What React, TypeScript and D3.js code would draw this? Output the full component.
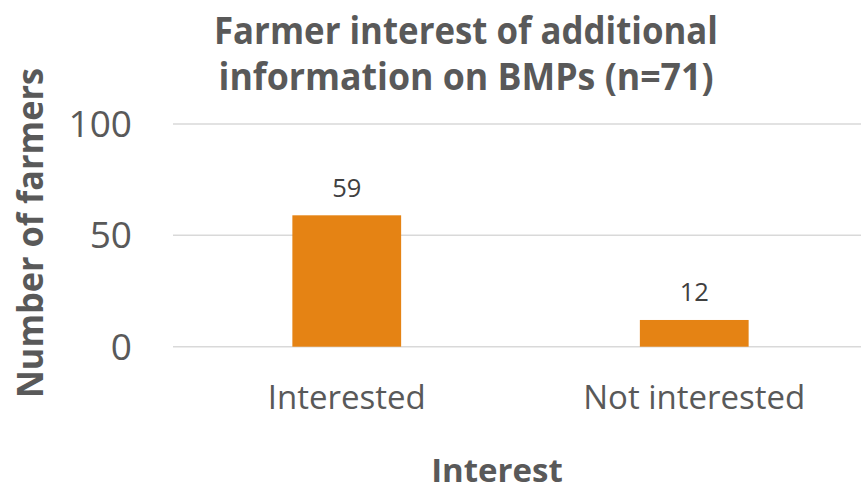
import React from "react";
import * as d3 from "d3";

const categories = ["Interested", "Not interested"];
const values = [59, 12];
const yTicks = [0, 50, 100];
const titleLines = ["Farmer interest of additional", "information on BMPs (n=71)"];
const xTitle = "Interest";
const yTitle = "Number of farmers";

const W = 861;
const H = 492;
const FONT = "'Open Sans', sans-serif";
const TEXT = "#595959";

export default function App() {
  const plot = { left: 173, right: 868, top: 124, bottom: 346.7 };
  const x = d3
    .scaleBand<string>()
    .domain(categories)
    .range([plot.left, plot.right])
    .paddingInner(0.687)
    .paddingOuter(0.687 / 2);
  const y = d3.scaleLinear().domain([0, 100]).range([plot.bottom, plot.top]);
  const titleWidths = [504, 495];

  return (
    <svg
      width={W}
      height={H}
      style={{ position: "absolute", left: 0, top: 0, background: "#fff" }}
    >
      {yTicks.map((t) => (
        <g key={t}>
          <line
            x1={plot.left}
            x2={plot.right}
            y1={y(t)}
            y2={y(t)}
            stroke="#D9D9D9"
            strokeWidth={1.5}
          />
          <text
            x={132}
            y={y(t) + 13}
            textAnchor="end"
            fontFamily={FONT}
            fontSize={37}
            fill={TEXT}
          >
            {t}
          </text>
        </g>
      ))}
      {categories.map((c, i) => (
        <g key={c}>
          <rect
            x={x(c)}
            y={y(values[i])}
            width={x.bandwidth()}
            height={y(0) - y(values[i])}
            fill="#E58314"
          />
          <text
            x={x(c)! + x.bandwidth() / 2}
            y={y(values[i]) - 18.5}
            textAnchor="middle"
            fontFamily={FONT}
            fontSize={25.5}
            fill="#404040"
          >
            {values[i]}
          </text>
          <text
            x={x(c)! + x.bandwidth() / 2}
            y={409}
            textAnchor="middle"
            fontFamily={FONT}
            fontSize={33}
            fill={TEXT}
          >
            {c}
          </text>
        </g>
      ))}
      {titleLines.map((l, i) => (
        <text
          key={l}
          x={466}
          y={44 + i * 46}
          textAnchor="middle"
          fontFamily={FONT}
          fontWeight="bold"
          fontSize={37}
          textLength={titleWidths[i]}
          lengthAdjust="spacingAndGlyphs"
          fill={TEXT}
        >
          {l}
        </text>
      ))}
      <text
        x={497}
        y={482}
        textAnchor="middle"
        fontFamily={FONT}
        fontWeight="bold"
        fontSize={33}
        fill={TEXT}
      >
        {xTitle}
      </text>
      <text
        transform={`translate(43,233) rotate(-90)`}
        textAnchor="middle"
        fontFamily={FONT}
        fontWeight="bold"
        fontSize={36}
        textLength={330}
        lengthAdjust="spacingAndGlyphs"
        fill={TEXT}
      >
        {yTitle}
      </text>
    </svg>
  );
}
